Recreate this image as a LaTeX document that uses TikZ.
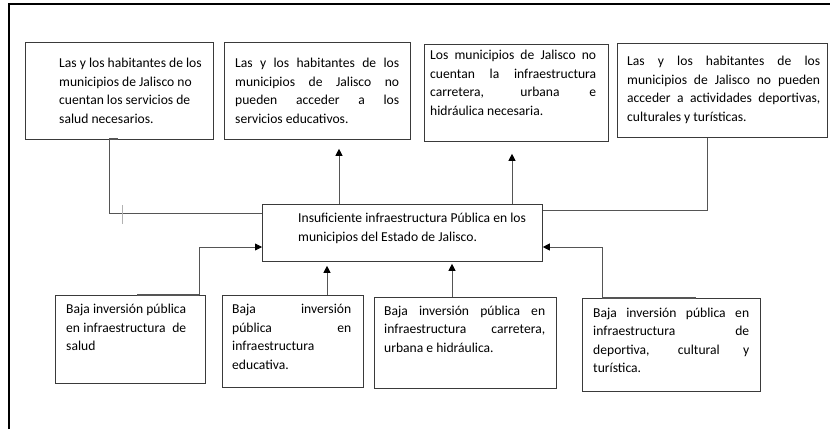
\documentclass[tikz,border=0pt]{standalone}
\usepackage{fontspec}
\setmainfont{Carlito}
\usetikzlibrary{arrows.meta}
\definecolor{boxgray}{HTML}{3A3A3A}
\definecolor{linegray}{HTML}{555555}
\newcommand{\jl}[2]{\makebox[#1pt][s]{#2}}
\newcommand{\fs}{\fontsize{13.6pt}{18.5pt}\selectfont}
\begin{document}
\begin{tikzpicture}[x=1pt,y=-1pt,
  box/.style={draw=boxgray, line width=0.8pt, inner sep=0pt, anchor=north west},
  txt/.style={anchor=base west, inner sep=0pt, text=black},
  conn/.style={draw=linegray, line width=0.8pt},
  arr/.style={conn, -{Triangle[length=7pt,width=7pt,color=black]}}
]
\useasboundingbox (0,0) rectangle (830,429);
\fill[white] (0,0) rectangle (830,429);
% frame
\draw[line width=1.5pt] (9,429) -- (9,4) -- (830,4);

% boxes
\node[box, minimum width=188pt, minimum height=97pt] (t1) at (25,42) {};
\node[box, minimum width=186pt, minimum height=97pt] (t2) at (224,42) {};
\node[box, minimum width=184pt, minimum height=97pt] (t3) at (424,44) {};
\node[box, minimum width=210pt, minimum height=94pt] (t4) at (617,43) {};
\node[box, minimum width=280pt, minimum height=57pt] (c) at (262,204) {};
\node[box, minimum width=150pt, minimum height=88pt] (b1) at (55,295) {};
\node[box, minimum width=141pt, minimum height=92pt] (b2) at (222,295) {};
\node[box, minimum width=182pt, minimum height=91pt] (b3) at (374,297) {};
\node[box, minimum width=178pt, minimum height=93pt] (b4) at (582,298) {};

% texts
\node[txt] (t1txt) at (59,67.5) {\parbox[t]{150pt}{\fs Las y los habitantes de los\\ municipios de Jalisco no\\ cuentan los servicios de\\ salud necesarios.}};
\node[txt] (t2txt) at (235,67.5) {\parbox[t]{164pt}{\fs \jl{164}{Las y los habitantes de los}\\ \jl{164}{municipios de Jalisco no}\\ \jl{164}{pueden acceder a los}\\ servicios educativos.}};
\node[txt] (t3txt) at (430,59.5) {\parbox[t]{166pt}{\fs \jl{166}{Los municipios de Jalisco no}\\ \jl{166}{cuentan la infraestructura}\\ \jl{166}{carretera, urbana e}\\ hidráulica necesaria.}};
\node[txt] (t4txt) at (627,65.5) {\parbox[t]{193pt}{\fs \jl{193}{Las y los habitantes de los}\\ \jl{193}{municipios de Jalisco no pueden}\\ \jl{193}{acceder a actividades deportivas,}\\ culturales y turísticas.}};
\node[txt] (ctxt) at (298,222.5) {\parbox[t]{240pt}{\fs Insuficiente infraestructura Pública en los\\ municipios del Estado de Jalisco.}};
\node[txt] (b1txt) at (66,313.5) {\parbox[t]{120pt}{\fs \jl{120}{Baja inversión pública}\\ \jl{120}{en infraestructura \ de}\\ salud}};
\node[txt] (b2txt) at (232,313.5) {\parbox[t]{119pt}{\fs \jl{119}{Baja inversión}\\ \jl{119}{pública en}\\ infraestructura\\ educativa.}};
\node[txt] (b3txt) at (384,315) {\parbox[t]{161pt}{\fs \jl{161}{Baja inversión pública en}\\ \jl{161}{infraestructura carretera,}\\ urbana e hidráulica.}};
\node[txt] (b4txt) at (593,317) {\parbox[t]{156pt}{\fs \jl{156}{Baja inversión pública en}\\ \jl{156}{infraestructura de}\\ \jl{156}{deportiva, cultural y}\\ turística.}};

% helper coordinates
\coordinate (xa) at (109,0);
\coordinate (ya) at (0,213);
\coordinate (x2) at (339,0);
\coordinate (x3) at (512,0);
\coordinate (x4) at (707,0);
\coordinate (y4) at (0,210);
\coordinate (xb1) at (199,0);
\coordinate (yb) at (0,247);
\coordinate (xb2) at (327,0);
\coordinate (xb3) at (452,0);
\coordinate (xb4) at (602,0);

% connectors
\draw[conn] (t1.south -| xa) |- (c.west |- ya);
\draw[arr, shorten >=9pt] (c.north -| x2) -- (t2.south -| x2);
\draw[arr, shorten >=12pt] (c.north -| x3) -- (t3.south -| x3);
\draw[conn] (t4.south -| x4) |- (c.east |- y4);
\draw[arr] (b1.north -| xb1) |- (c.west |- yb);
\draw[arr, shorten >=4pt] (b2.north -| xb2) -- (c.south -| xb2);
\draw[arr, shorten >=2pt] (b3.north -| xb3) -- (c.south -| xb3);
\draw[arr] (b4.north -| xb4) |- (c.east |- yb);

% small marks
\draw[gray!60, line width=0.5pt] (122,205) -- (122,224);
\draw[linegray, line width=1.4pt] (109,139) -- (118,139);
\draw[linegray, line width=1.4pt] (137,295) -- (199,295);
\draw[linegray, line width=1.4pt] (602,298) -- (696,298);
\end{tikzpicture}
\end{document}
